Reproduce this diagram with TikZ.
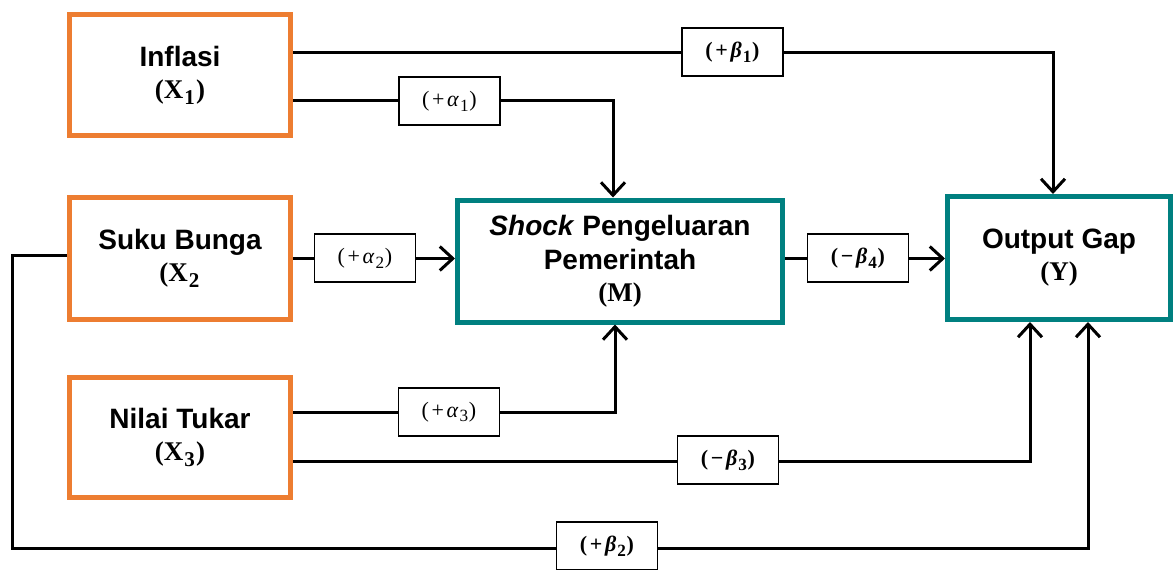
\documentclass[tikz,border=0pt]{standalone}
\usepackage{graphicx}
\usepackage[no-math]{fontspec}
\setmainfont{Liberation Sans}
\newfontfamily\lser{Liberation Serif}
\usetikzlibrary{arrows.meta}
\definecolor{orng}{RGB}{237,125,49}
\definecolor{tealc}{RGB}{0,128,128}
\newcommand{\sbs}[1]{\kern0.04em\raisebox{-0.22em}{\scalebox{0.78}{#1}}\kern0.04em}
\newcommand{\mth}[1]{{\lser\fontsize{27}{28}\selectfont\bfseries #1}}
\newcommand{\op}[1]{\kern0.12em#1\kern0.12em}
\begin{document}
\begin{tikzpicture}[x=1pt,y=-1pt,
  varbox/.style={draw=orng,line width=5pt,minimum width=221pt,inner sep=0pt,align=center,
    font=\fontsize{28}{34}\selectfont\bfseries},
  tbox/.style={draw=tealc,line width=5pt,inner sep=0pt,align=center,
    font=\fontsize{28}{34}\selectfont\bfseries},
  conn/.style={line width=3pt,-{Straight Barb[length=13pt,width=24pt,line width=3pt]}},
  lab/.style={draw,line width=1.3pt,fill=white,minimum width=101pt,minimum height=48pt,inner sep=0pt,
    font=\lser\fontsize{22}{24}\selectfont},
  blab/.style={lab,font=\lser\fontsize{22}{24}\selectfont\bfseries}
]
\useasboundingbox (0,0) rectangle (1173,570);
% boxes
\node[varbox,minimum height=121pt] (Inf) at (180,75) {Inflasi\\[-2pt]\mth{(X\sbs{1})}};
\node[varbox,minimum height=122pt] (Suk) at (180,258.5) {Suku Bunga\\[-2pt]\mth{(X\sbs{2}}};
\node[varbox,minimum height=120pt] (Nil) at (180,437.5) {Nilai Tukar\\[-2pt]\mth{(X\sbs{3})}};
\node[tbox,minimum width=325pt,minimum height=122pt] (M) at (620,261) {\textit{Shock} Pengeluaran\\Pemerintah\\[-2pt]\mth{(M)}};
\node[tbox,minimum width=223pt,minimum height=123pt] (Y) at (1059,258) {Output Gap\\[-2pt]\mth{(Y)}};
% coordinates
\coordinate (c1) at (1053,52);
\coordinate (c2) at (613,100);
\coordinate (c4) at (12,255);
\coordinate (c5) at (12,548);
\coordinate (c6) at (1088,548);
\coordinate (c7) at (615,412);
\coordinate (c8) at (1030,461);
% connectors
\draw[conn] (Inf.east |- c1) -- (c1) -- (c1 |- Y.north);
\draw[conn] (Inf.east |- c2) -- (c2) -- (c2 |- M.north);
\draw[conn] (Suk.east) -- (Suk.east -| M.west);
\draw[conn] (Suk.east -| M.east) -- (Suk.east -| Y.west);
\draw[conn] (Suk.west |- c4) -- (c4) -- (c5) -- (c6) -- (c6 |- Y.south);
\draw[conn] (Nil.east |- c7) -- (c7) -- (c7 |- M.south);
\draw[conn] (Nil.east |- c8) -- (c8) -- (c8 |- Y.south);
% labels
\node[blab] (lb1) at (732.5,52) {(\op{+}\textit{β}\sbs{1})};
\node[lab] (la1) at (449.5,101) {(\op{+}\textit{α}\sbs{1})};
\node[lab] (la2) at (365,258) {(\op{+}\textit{α}\sbs{2})};
\node[blab] (lb4) at (858,258) {(\op{−}\textit{β}\sbs{4})};
\node[lab] (la3) at (449,412) {(\op{+}\textit{α}\sbs{3})};
\node[blab] (lb3) at (728,460) {(\op{−}\textit{β}\sbs{3})};
\node[blab] (lb2) at (607,546) {(\op{+}\textit{β}\sbs{2})};
\end{tikzpicture}
\end{document}
